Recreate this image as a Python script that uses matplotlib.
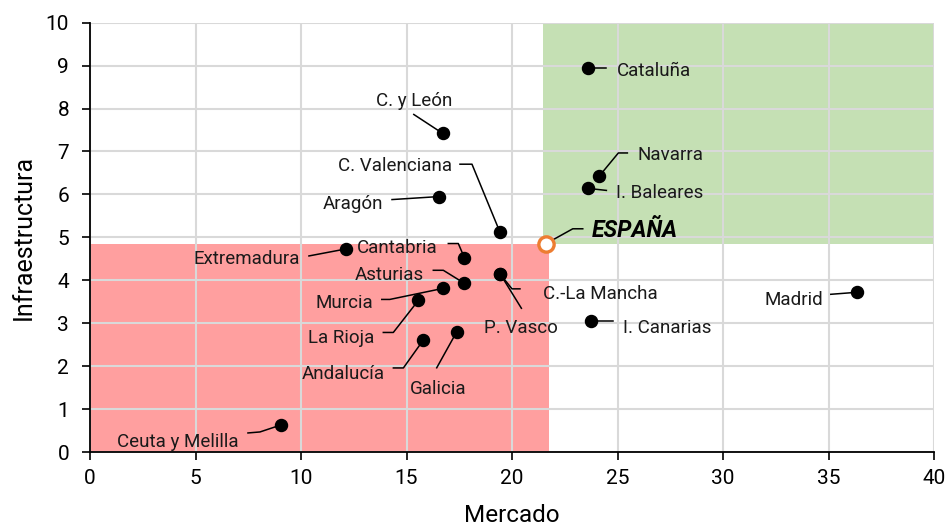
import matplotlib.pyplot as plt
from matplotlib.patches import Rectangle

# regional scores
regiones = ['Cataluña', 'C. y León', 'Navarra', 'I. Baleares', 'Aragón',
            'C. Valenciana', 'Extremadura', 'Cantabria', 'C.-La Mancha',
            'P. Vasco', 'Asturias', 'Murcia', 'Madrid', 'La Rioja',
            'I. Canarias', 'Galicia', 'Andalucía', 'Ceuta y Melilla']
mercado = [23.62, 16.72, 24.14, 23.62, 16.54,
           19.43, 12.13, 17.74, 19.43,
           19.45, 17.74, 16.72, 36.34, 15.56,
           23.73, 17.38, 15.80, 9.05]
infraestructura = [8.95, 7.42, 6.43, 6.14, 5.95,
                   5.12, 4.73, 4.53, 4.15,
                   4.14, 3.93, 3.81, 3.72, 3.53,
                   3.04, 2.80, 2.61, 0.63]

espana_mercado = 21.6
espana_infra = 4.85

x_ticks = list(range(0, 45, 5))
y_ticks = list(range(0, 11))

# leader bends and label anchor, pixels from the dot (x right, y down)
etiquetas = {
    'Cataluña': ([(18, 0)], (28, 3), 'left'),
    'C. y León': ([(-29, -19)], (-29, -32), 'center'),
    'Navarra': ([(19, -23), (28, -23)], (38, -21), 'left'),
    'I. Baleares': ([(18, 2)], (28, 5), 'left'),
    'Aragón': ([(-47, 3)], (-56, 7), 'right'),
    'C. Valenciana': ([(-28, -68), (-40, -68)], (-48, -66), 'right'),
    'Extremadura': ([(-37, 7)], (-46, 10), 'right'),
    'Cantabria': ([(-6, -14), (-16, -14)], (-27, -10), 'right'),
    'C.-La Mancha': ([(12, 15), (20, 15)], (43, 20), 'left'),
    'P. Vasco': ([(21, 34)], (21, 54), 'center'),
    'Asturias': ([(-21, -13), (-31, -13)], (-40, -8), 'right'),
    'Murcia': ([(-53, 11), (-61, 11)], (-70, 15), 'right'),
    'Madrid': ([(-26, 2)], (-34, 8), 'right'),
    'La Rioja': ([(-25, 32), (-35, 32)], (-44, 38), 'right'),
    'I. Canarias': ([(22, 0)], (32, 7), 'left'),
    'Galicia': ([(-20, 36)], (-19, 57), 'center'),
    'Andalucía': ([(-20, 28), (-30, 28)], (-39, 34), 'right'),
    'Ceuta y Melilla': ([(-21, 7), (-33, 8)], (-42, 17), 'right'),
}

plt.rcParams['font.family'] = ['Roboto', 'DejaVu Sans']

fig = plt.figure(figsize=(9.51, 5.28), dpi=100)
ax = fig.add_axes([90 / 951, 1 - 452 / 528, 844 / 951, 429.3 / 528])
ax.set_xlim(0, 40)
ax.set_ylim(0, 10)


def desplazar(x, y, dx, dy):
    px, py = ax.transData.transform((x, y))
    return ax.transData.inverted().transform((px + dx, py - dy))


# quadrant fills
ax.add_patch(Rectangle((0, 0), espana_mercado + 0.15, espana_infra,
                       facecolor='#ff9f9f', edgecolor='none', zorder=0.5))
ax.add_patch(Rectangle((espana_mercado - 0.15, espana_infra), 40 - espana_mercado + 0.15,
                       10 - espana_infra, facecolor='#c5e0b4', edgecolor='none', zorder=0.5))

ax.set_axisbelow('line')
ax.grid(True, color='#d9d9d9', linewidth=1.5)
ax.set_xticks(x_ticks)
ax.set_yticks(y_ticks)
ax.tick_params(labelsize=15, length=6, width=1.2, color='black')
ax.tick_params(axis='x', pad=6)
ax.tick_params(axis='y', pad=9)
for s in ['top', 'right']:
    ax.spines[s].set_visible(False)
for s in ['left', 'bottom']:
    ax.spines[s].set_linewidth(1.3)
ax.set_xlabel('Mercado', fontsize=17.5, labelpad=12)
ax.set_ylabel('Infraestructura', fontsize=18, labelpad=7)

for nombre, x, y in zip(regiones, mercado, infraestructura):
    codos, texto, ha = etiquetas[nombre]
    xs = [x]
    ys = [y]
    for dx, dy in codos:
        cx, cy = desplazar(x, y, dx, dy)
        xs.append(cx)
        ys.append(cy)
    ax.plot(xs, ys, color='black', linewidth=1.1, zorder=4, clip_on=False)
    tx, ty = desplazar(x, y, texto[0], texto[1])
    ax.text(tx, ty, nombre, ha=ha, va='center', fontsize=13.5, color='#1a1a1a', zorder=6)

ax.scatter(mercado, infraestructura, s=75, color='black', zorder=5)

# Spain reference point
cx1, cy1 = desplazar(espana_mercado, espana_infra, 27, -15)
cx2, cy2 = desplazar(espana_mercado, espana_infra, 37, -15)
ax.plot([espana_mercado, cx1, cx2], [espana_infra, cy1, cy2], color='black', linewidth=1.1, zorder=4)
ax.plot([espana_mercado], [espana_infra], marker='o', markersize=11, markerfacecolor='white',
        markeredgecolor='#ed7d31', markeredgewidth=2.4, zorder=6)
tx, ty = desplazar(espana_mercado, espana_infra, 46, -13)
ax.text(tx, ty, 'ESPAÑA', ha='left', va='center', fontsize=16.5, fontweight='bold',
        fontstyle='italic', color='black', zorder=6)

fig.savefig('out.png', dpi=100)
